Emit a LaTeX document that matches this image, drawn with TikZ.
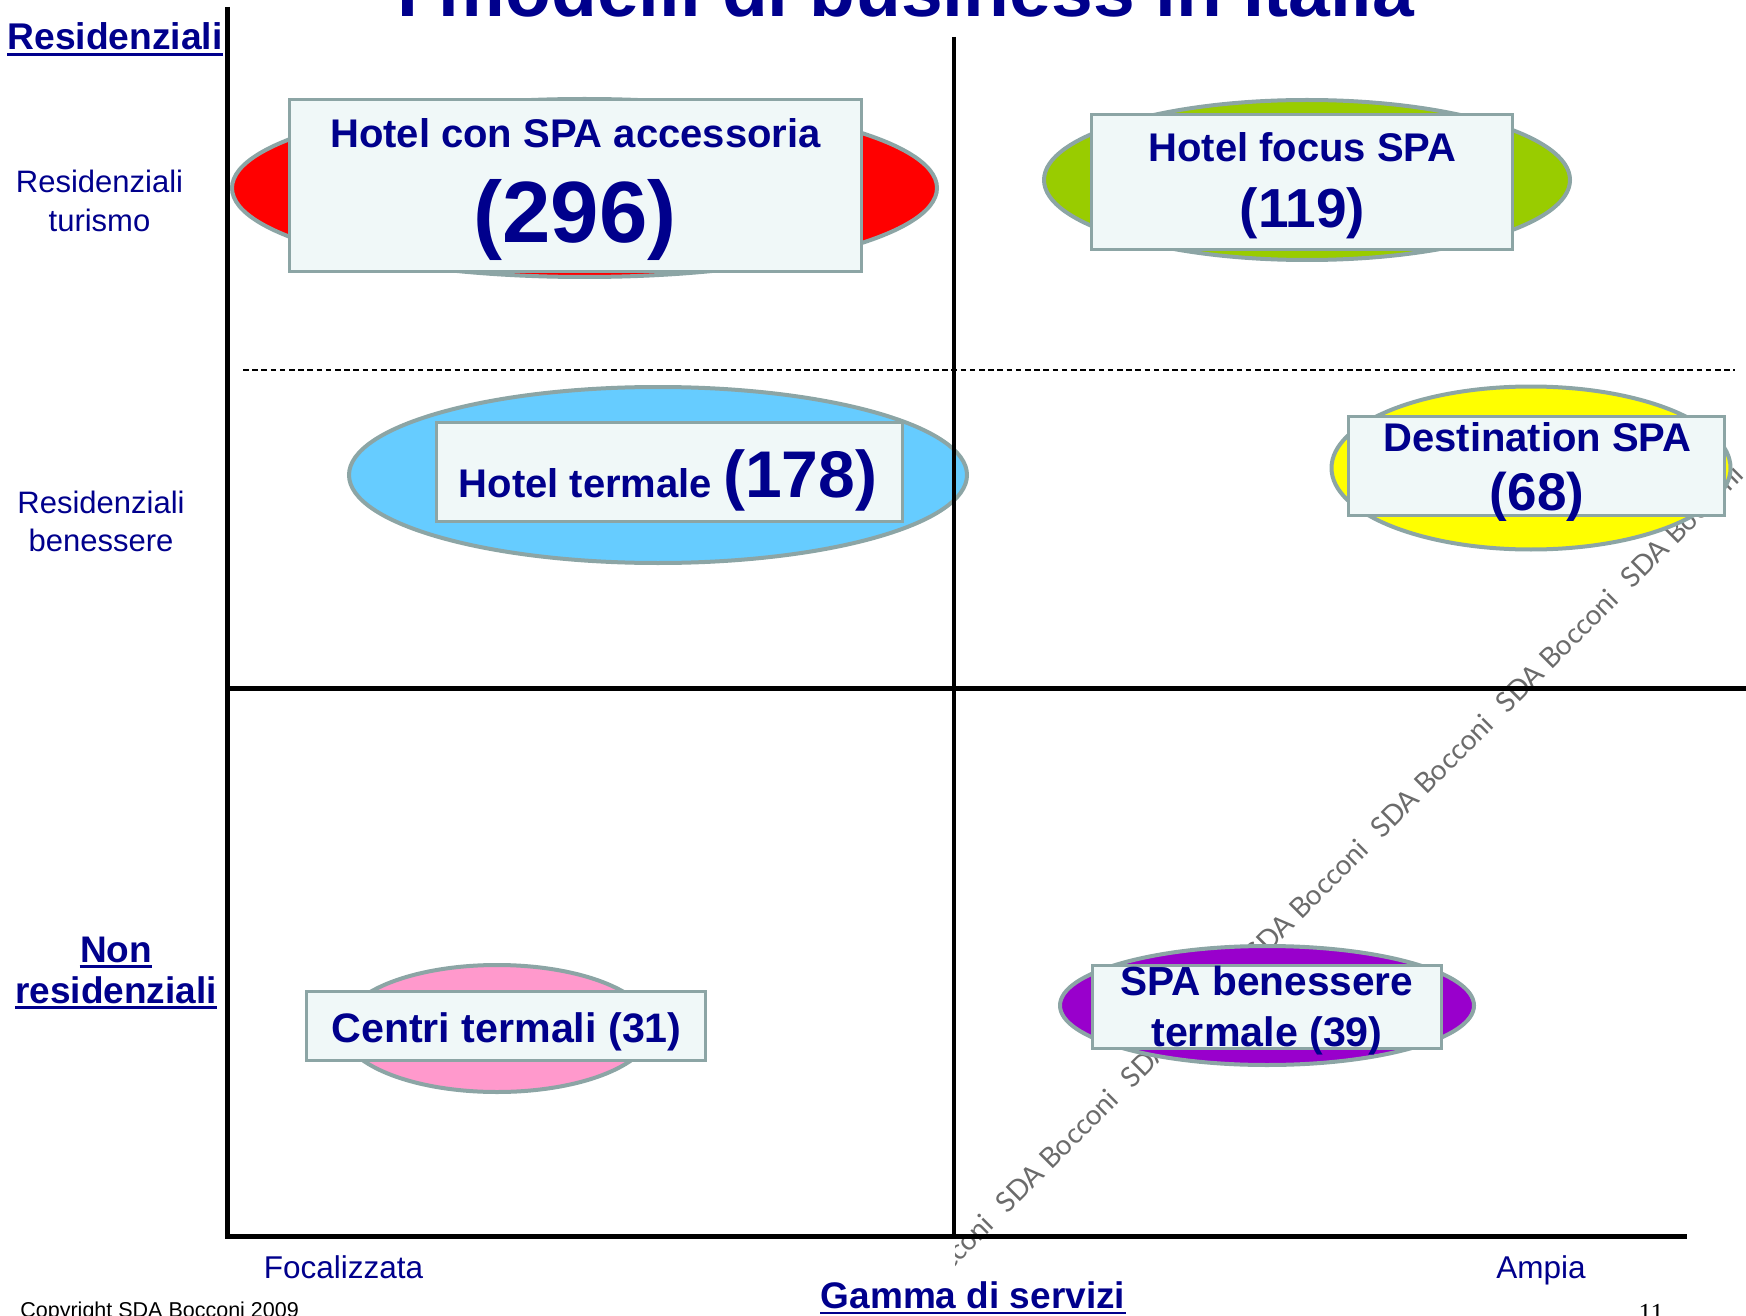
\documentclass[tikz,border=0pt]{standalone}
\usepackage{fontspec}
\setmainfont{Liberation Sans}
\newfontfamily\pagenumfont{Liberation Serif}
\newfontfamily\wmfont{Lato}
\usetikzlibrary{shapes.geometric}
\definecolor{navy}{RGB}{0,0,140}
\definecolor{edgegray}{RGB}{140,165,165}
\definecolor{boxfill}{RGB}{240,248,248}
\definecolor{cred}{RGB}{255,0,0}
\definecolor{cgreen}{RGB}{153,204,0}
\definecolor{cblue}{RGB}{102,204,255}
\definecolor{cyellow}{RGB}{255,255,0}
\definecolor{cpink}{RGB}{255,153,204}
\definecolor{cpurple}{RGB}{153,0,204}
\newcommand{\myfs}[1]{\fontsize{#1pt}{#1pt}\selectfont}

\begin{document}
\begin{tikzpicture}[x=0.5pt,y=-0.5pt,
  oval/.style={ellipse, draw=edgegray, line width=2pt, inner sep=0pt, outer sep=0pt},
  labelbox/.style={rectangle, draw=edgegray, fill=boxfill, line width=1.5pt, inner sep=0pt, outer sep=0pt},
  boxtext/.style={anchor=base, inner sep=0pt, text=navy, font=\myfs{20}\bfseries},
  bignum/.style={anchor=base, inner sep=0pt, text=navy},
  sidelabel/.style={anchor=base, inner sep=0pt, text=navy, font=\myfs{15.5}},
  headlabel/.style={anchor=base, inner sep=0pt, text=navy, font=\myfs{18.5}\bfseries},
  uline/.style={navy, line width=1.2pt},
  axisline/.style={line width=2.5pt, black},
  wm/.style={anchor=base west, inner sep=0pt, text=black!58, font=\wmfont\myfs{14}, rotate=45}
]
\useasboundingbox (0,0) rectangle (1746,1316);

% watermark
\begin{scope}
  \clip (955,0) rectangle (1746,1316);
  \foreach \i in {-4,...,3}
    \node[wm] (wm\i) at ({1382+125*\i},{840-125*\i}) {SDA Bocconi};
\end{scope}

% title
\node[anchor=base, inner sep=0pt, text=navy, font=\myfs{37.5}\bfseries] (title) at (905.5,17) {I modelli di business in Italia};

% ellipses
\node[oval, fill=cred, minimum width=352.5pt, minimum height=89pt] (e1) at (584.5,188) {};
\node[oval, fill=cgreen, minimum width=263pt, minimum height=80pt] (e2) at (1307,180) {};
\node[oval, fill=cblue, minimum width=309pt, minimum height=88pt] (e3) at (658,475) {};
\node[oval, fill=cyellow, minimum width=199.5pt, minimum height=81.5pt] (e4) at (1531,468) {};
\node[oval, fill=cpink, minimum width=155pt, minimum height=63.5pt] (e5) at (497,1028.5) {};
\node[oval, fill=cpurple, minimum width=207pt, minimum height=59.5pt] (e6) at (1267,1005.5) {};

% boxes
\node[labelbox, minimum width=286pt, minimum height=86pt] (b1) at (575.5,185.5) {};
\node[labelbox, minimum width=210.5pt, minimum height=67.5pt] (b2) at (1302,182) {};
\node[labelbox, minimum width=233pt, minimum height=49.5pt] (b3) at (669.5,472) {};
\node[labelbox, minimum width=188pt, minimum height=49.5pt] (b4) at (1536.5,466) {};
\node[labelbox, minimum width=199.5pt, minimum height=34.5pt] (b5) at (506,1026) {};
\node[labelbox, minimum width=174.5pt, minimum height=41.5pt] (b6) at (1267,1007) {};

% box texts
\node[boxtext] (t1a) at (575.5,148) {Hotel con SPA accessoria};
\node[bignum, font=\myfs{43.5}\bfseries] (t1b) at (575,243) {(296)};
\node[boxtext] (t2a) at (1302.5,162) {Hotel focus SPA};
\node[bignum, font=\myfs{27.5}\bfseries] (t2b) at (1302.5,228) {(119)};
\node[boxtext] (t3) at (668,497) {Hotel termale {\myfs{33}(178)}};
\node[boxtext] (t4a) at (1537.5,451) {Destination SPA};
\node[bignum, font=\myfs{26.5}\bfseries] (t4b) at (1537,510) {(68)};
\node[boxtext, font=\myfs{20.6}\bfseries] (t5) at (506.5,1042) {Centri termali (31)};
\node[boxtext, font=\myfs{20.3}\bfseries] (t6a) at (1267,995) {SPA benessere};
\node[boxtext, font=\myfs{20.6}\bfseries] (t6b) at (1267,1046) {termale (39)};

% axes and grid lines
\coordinate (lt) at (227,7);
\coordinate (lb) at (227,1236);
\coordinate (br) at (1687,1236);
\coordinate (mt) at (954,37);
\coordinate (mb) at (954,1234);
\coordinate (hl) at (227,688);
\coordinate (hr) at (1746,688);
\coordinate (dl) at (243,370);
\coordinate (dr) at (1735,370);
\draw[black, line width=0.9pt, dash pattern=on 2.8pt off 1.8pt] (dl) -- (dr);
\draw[black, line width=2pt] (mt) -- (mb);
\draw[axisline] (hl) -- (hr);
\draw[axisline] (lt) -- (lb) -- (br);

% left labels
\node[anchor=base, inner sep=0pt, text=navy, font=\myfs{18.6}\bfseries] (resid) at (115,50) {Residenziali};
\draw[uline] ([yshift=-2.2pt]resid.base west) -- ([yshift=-2.2pt]resid.base east);
\node[sidelabel] (rt1) at (99.5,193) {Residenziali};
\node[sidelabel] (rt2) at (99.5,232) {turismo};
\node[sidelabel] (rb1) at (101,513) {Residenziali};
\node[sidelabel] (rb2) at (101,551) {benessere};
\node[headlabel] (non1) at (116,962) {Non};
\draw[uline] ([yshift=-2.2pt]non1.base west) -- ([yshift=-2.2pt]non1.base east);
\node[headlabel] (non2) at (116,1003) {residenziali};
\draw[uline] ([yshift=-2.2pt]non2.base west) -- ([yshift=-2.2pt]non2.base east);

% bottom labels
\node[anchor=base, inner sep=0pt, text=navy, font=\myfs{15.75}] (foc) at (343.5,1278) {Focalizzata};
\node[anchor=base, inner sep=0pt, text=navy, font=\myfs{15.75}] (amp) at (1541,1278) {Ampia};
\node[headlabel] (gamma) at (973,1308) {Gamma di servizi};
\draw[uline] ([yshift=-2.6pt]gamma.base west) -- ([yshift=-2.6pt]gamma.base east);
\node[anchor=base west, inner sep=0pt, text=black, font=\myfs{10.75}] (copy) at (20,1317) {Copyright SDA Bocconi 2009};
\node[anchor=base, inner sep=0pt, text=black, font=\pagenumfont\myfs{13}] (pnum) at (1651,1321) {11};
\end{tikzpicture}
\end{document}
